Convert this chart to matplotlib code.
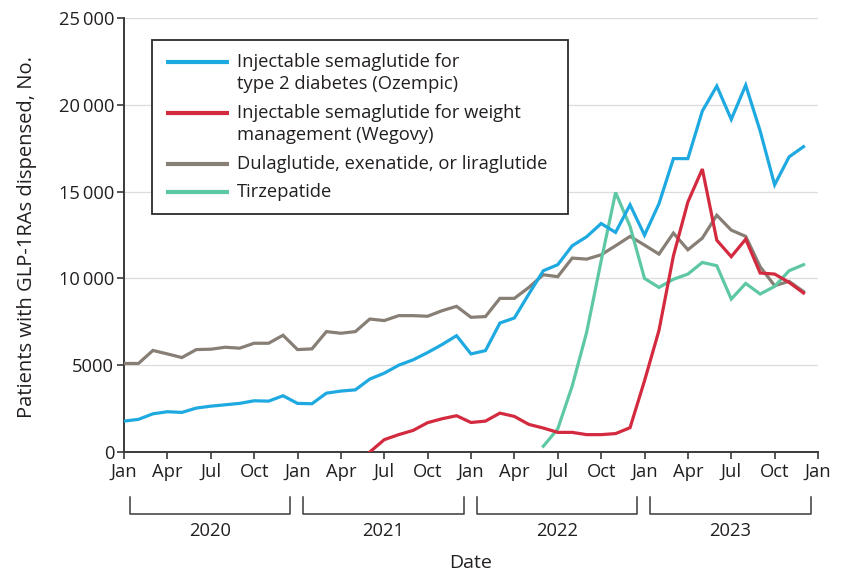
import numpy as np
import matplotlib
matplotlib.use('Agg')
import matplotlib.pyplot as plt
import matplotlib.transforms as mtransforms

plt.rcParams['font.family'] = ['Open Sans', 'DejaVu Sans']

nan = np.nan
# monthly values, Jan 2020 .. Dec 2023
ozempic = [1780, 1880, 2200, 2320, 2280, 2530, 2640, 2720, 2800, 2950, 2930, 3240,
           2800, 2780, 3390, 3510, 3580, 4200, 4540, 5000, 5310, 5730, 6190, 6700,
           5650, 5840, 7430, 7720, 9100, 10440, 10790, 11880, 12400, 13160, 12650, 14240,
           12490, 14300, 16900, 16900, 19640, 21080, 19160, 21130, 18490, 15390, 17000, 17590]
wegovy = [nan] * 17 + [0, 710, 1000, 1245, 1690, 1915, 2090,
          1700, 1780, 2240, 2050, 1590, 1380, 1130, 1130, 1000, 1000, 1060, 1400,
          4100, 7000, 11300, 14400, 16300, 12200, 11250, 12260, 10310, 10250, 9770, 9160]
other = [5100, 5100, 5850, 5650, 5440, 5900, 5920, 6035, 5980, 6265, 6265, 6725,
         5900, 5940, 6935, 6840, 6935, 7660, 7570, 7855, 7855, 7820, 8140, 8390,
         7760, 7800, 8850, 8850, 9480, 10210, 10100, 11170, 11110, 11360, 11880, 12420,
         11920, 11400, 12610, 11650, 12320, 13640, 12780, 12420, 10670, 9580, 9830, 9240]
tirzepatide = [nan] * 29 + [330, 1330, 3800, 6900, 11000, 14950, 13000,
               10000, 9480, 9950, 10250, 10920, 10730, 8810, 9710, 9100, 9540, 10440, 10790]

series_labels = ['Injectable semaglutide for\ntype 2 diabetes (Ozempic)',
                 'Injectable semaglutide for weight\nmanagement (Wegovy)',
                 'Dulaglutide, exenatide, or liraglutide',
                 'Tirzepatide']
colors = ['#1ea9e1', '#d32a3f', '#877f75', '#5ec8a5']
month_labels = ['Jan', 'Apr', 'Jul', 'Oct']
years = ['2020', '2021', '2022', '2023']
ytick_vals = [0, 5000, 10000, 15000, 20000, 25000]

months = np.arange(len(ozempic))

W, H = 849, 575
L, R, T, B = 124, 818, 18, 452   # axes box in pixels
fig = plt.figure(figsize=(W / 100, H / 100), dpi=100)
ax = fig.add_axes([L / W, 1 - B / H, (R - L) / W, (B - T) / H])

def pax(x, y):
    # pixel -> axes fraction
    return (x - L) / (R - L), (B - y) / (B - T)

text_col = '#231f20'
fs = 13.2
for yv in ytick_vals[1:]:
    ax.axhline(yv, color='#dcdcdc', lw=0.9, zorder=0)

order = [2, 3, 0, 1]
data = [ozempic, wegovy, other, tirzepatide]
for i in order:
    ax.plot(months, data[i], color=colors[i], lw=2.3, solid_joinstyle='miter', zorder=3)

ax.set_xlim(0, 48)
ax.set_ylim(0, 25000)
for s in ['top', 'right']:
    ax.spines[s].set_visible(False)
for s in ['left', 'bottom']:
    ax.spines[s].set_color('#3a3a3a')
    ax.spines[s].set_linewidth(1.4)

ax.set_xticks(np.arange(0, 49, 3))
ax.set_xticklabels([month_labels[i % 4] for i in range(17)])
ax.set_yticks(ytick_vals)
ax.set_yticklabels([f'{v:,}'.replace(',', '\u2009') if v >= 10000 else str(v) for v in ytick_vals])
ax.tick_params(axis='both', colors='#3a3a3a', labelcolor=text_col, labelsize=fs,
               length=5, width=1.2, direction='out')
ax.tick_params(axis='x', pad=3)
ax.tick_params(axis='y', pad=2)

ax.text(*pax(27, 237), 'Patients with GLP-1RAs dispensed, No.', transform=ax.transAxes,
        rotation=90, ha='center', va='center', fontsize=14.5, color=text_col)

# year brackets under the month labels
trans = mtransforms.blended_transform_factory(ax.transData, ax.transAxes)
y_top = (B - 497) / (B - T)
y_bot = (B - 514) / (B - T)
for j, yr in enumerate(years):
    x0, x1 = 12 * j + 0.4, 12 * j + 11.5
    ax.plot([x0, x0, x1, x1], [y_top, y_bot, y_bot, y_top], color='#3a3a3a', lw=1.1,
            transform=trans, clip_on=False)
    ax.text((x0 + x1) / 2, (B - 531) / (B - T), yr, transform=trans, ha='center', va='center',
            fontsize=fs, color=text_col)
ax.text(0.5, (B - 563) / (B - T), 'Date', transform=ax.transAxes, ha='center', va='center',
        fontsize=14, color=text_col)

# legend box, drawn by hand so the handles sit on the first text line
bx0, by0 = pax(152, 214)
bx1, by1 = pax(568, 40)
ax.add_patch(plt.Rectangle((bx0, by0), bx1 - bx0, by1 - by0, transform=ax.transAxes,
                           facecolor='white', edgecolor='#2b2b2b', lw=1.3, zorder=5))
first_line_y = [62, 113, 164, 192]
for i, lab in enumerate(series_labels):
    hx0, hy = pax(166, first_line_y[i])
    hx1, _ = pax(229, first_line_y[i])
    ax.plot([hx0, hx1], [hy, hy], color=colors[i], lw=3, transform=ax.transAxes,
            solid_capstyle='butt', zorder=6)
    for k, line in enumerate(lab.split('\n')):
        tx, ty = pax(237, first_line_y[i] + 22 * k)
        ax.text(tx, ty, line, transform=ax.transAxes, ha='left', va='center',
                fontsize=fs, color=text_col, zorder=6)

fig.savefig('out.png', dpi=100)
